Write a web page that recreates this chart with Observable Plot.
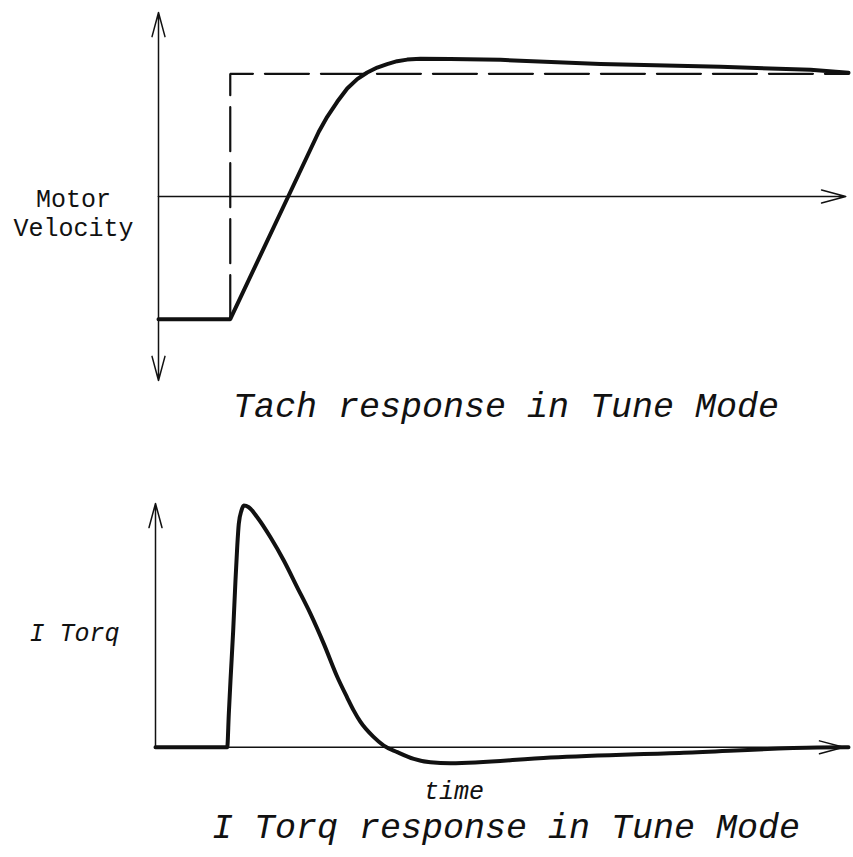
<!DOCTYPE html>
<html><head><meta charset="utf-8">
<script src="https://cdn.jsdelivr.net/npm/d3@7"></script>
<script src="https://cdn.jsdelivr.net/npm/@observablehq/plot@0.6"></script>
<style>
html,body{margin:0;padding:0;background:#fff;}
#wrap{position:relative;width:853px;height:857px;overflow:hidden;background:#fff;}
#wrap svg{position:absolute;left:0;background:transparent;}
.title{position:absolute;left:106px;width:800px;text-align:center;font-family:"Liberation Mono",monospace;font-style:italic;font-size:35px;line-height:35px;color:#111;white-space:pre;z-index:2;}
</style></head>
<body><div id="wrap"></div>
<script>
// ---- data (time in arbitrary units, 0..100) ----
const tachTime = [0, 10.4, 18.8, 23.23, 24.45, 25.90, 27.35, 28.80, 30.25, 31.70, 33.14, 34.59, 36.04, 37.97, 42.32, 49.57, 64.06, 81.45, 94.49, 100];
const tachVel  = [-1, -1, 0, 0.528, 0.650, 0.772, 0.880, 0.957, 1.011, 1.051, 1.079, 1.103, 1.116, 1.122, 1.120, 1.114, 1.081, 1.057, 1.033, 1.008];
const cmdTime  = [10.4, 10.4, 100];
const cmdVel   = [-1, 1, 1];

const torqTime = [0, 10.35, 10.58, 10.82, 11.21, 11.54, 11.79, 12.02, 12.41, 12.74, 13.46, 14.68, 16.59, 18.51, 20.45, 22.37, 24.29, 26.22, 27.66, 28.61, 29.58, 31.50, 32.94, 34.88, 37.27, 39.68, 42.57, 57.0, 76.2, 95.5, 100];
const torqVal  = [0, 0, 0.139, 0.276, 0.483, 0.690, 0.828, 0.925, 0.980, 1.000, 0.993, 0.952, 0.869, 0.773, 0.662, 0.552, 0.428, 0.292, 0.206, 0.152, 0.105, 0.042, 0.007, -0.020, -0.048, -0.062, -0.066, -0.042, -0.022, -0.001, 0];

const timeDomain = [0, 100];
const velDomain = [-1.5, 1.5];
const torqDomain = [-0.1, 1.05];
const velAxisMin = -1.5, velAxisMax = 1.5;
const torqAxisMax = 1.009;
const timeAxisEndTop = 99.6, timeAxisEndBottom = 99.3;

const velLabel = "Motor\nVelocity";
const torqLabel = "I Torq";
const timeLabel = "time";
const tachTitle = "Tach response in Tune Mode";
const torqTitle = "I Torq response in Tune Mode";

// ---- build ----
const tachRows = tachTime.map((t, i) => ({t, v: tachVel[i]}));
const cmdRows = cmdTime.map((t, i) => ({t, v: cmdVel[i]}));
const torqRows = torqTime.map((t, i) => ({t, v: torqVal[i]}));
const font = "Liberation Mono, monospace";
const arrowOpts = {x1: "x1", y1: "y1", x2: "x2", y2: "y2", stroke: "#111", strokeWidth: 1.5, headAngle: 30, headLength: 25};

const tachPlot = Plot.plot({
  width: 853, height: 392,
  marginLeft: 158, marginRight: 5, marginTop: 12, marginBottom: 12,
  x: {domain: timeDomain, axis: null},
  y: {domain: velDomain, axis: null},
  style: {background: "transparent", fontFamily: font, color: "#111"},
  marks: [
    Plot.arrow([
      {x1: 0, y1: 0, x2: 0, y2: velAxisMax},
      {x1: 0, y1: 0, x2: 0, y2: velAxisMin},
      {x1: 0, y1: 0, x2: timeAxisEndTop, y2: 0}
    ], arrowOpts),
    Plot.line(cmdRows, {x: "t", y: "v", stroke: "#111", strokeWidth: 2.2, strokeDasharray: "44,12", strokeLinejoin: "miter"}),
    Plot.line(tachRows, {x: "t", y: "v", stroke: "#111", strokeWidth: 4, curve: "linear"}),
    Plot.text([velLabel], {frameAnchor: "left", dx: -85, dy: 16, textAnchor: "middle", fontSize: 25, lineHeight: 1.15, fontFamily: font, fill: "#111"})
  ]
});
tachPlot.style.top = "0px";

const torqPlot = Plot.plot({
  width: 853, height: 370,
  marginLeft: 155, marginRight: 5, marginTop: 53, marginBottom: 39,
  x: {domain: timeDomain, axis: null},
  y: {domain: torqDomain, axis: null},
  style: {background: "transparent", fontFamily: font, color: "#111"},
  marks: [
    Plot.arrow([
      {x1: 0, y1: 0, x2: 0, y2: torqAxisMax},
      {x1: 0, y1: 0, x2: timeAxisEndBottom, y2: 0}
    ], arrowOpts),
    Plot.line(torqRows, {x: "t", y: "v", stroke: "#111", strokeWidth: 4, curve: "monotone-x"}),
    Plot.text([torqLabel], {frameAnchor: "left", dx: -81, dy: 0, textAnchor: "middle", fontSize: 25, fontStyle: "italic", fontFamily: font, fill: "#111"}),
    Plot.text([timeLabel], {frameAnchor: "bottom", dx: -48, dy: 27, lineAnchor: "bottom", textAnchor: "middle", fontSize: 25, fontStyle: "italic", fontFamily: font, fill: "#111"})
  ]
});
torqPlot.style.top = "440px";

const wrap = document.getElementById("wrap");
wrap.appendChild(tachPlot);
wrap.appendChild(torqPlot);
const t1 = document.createElement("div");
t1.className = "title"; t1.style.top = "391px"; t1.textContent = tachTitle;
const t2 = document.createElement("div");
t2.className = "title"; t2.style.top = "812px"; t2.textContent = torqTitle;
wrap.appendChild(t1); wrap.appendChild(t2);
</script>
</body></html>
